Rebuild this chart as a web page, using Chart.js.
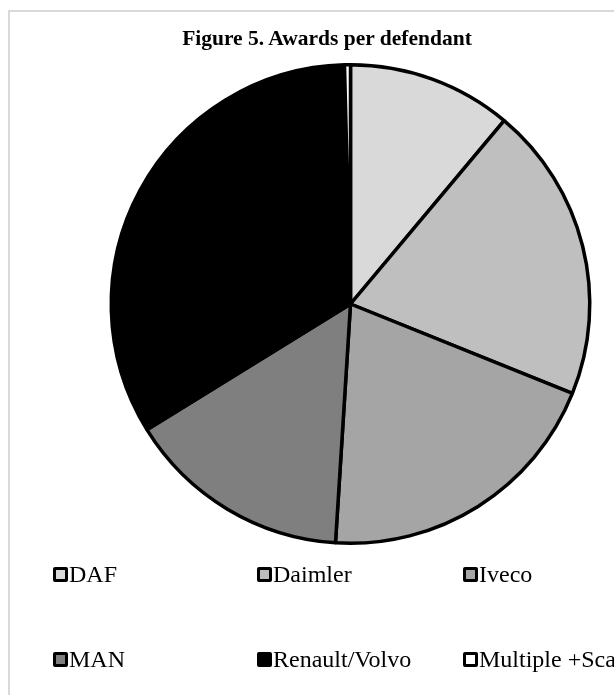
<!DOCTYPE html>
<html><head><meta charset="utf-8">
<script src="https://cdn.jsdelivr.net/npm/chart.js@4/dist/chart.umd.min.js"></script>
<style>
html,body{margin:0;padding:0;width:614px;height:695px;overflow:hidden;background:#fff;}
#frame{position:absolute;left:8px;top:10px;width:720px;height:740px;border:2px solid #d9d9d9;box-sizing:border-box;}
#c{position:absolute;left:0;top:0;}
#title{position:absolute;left:0;width:654px;top:28px;text-align:center;font-family:"Liberation Serif","Times New Roman",serif;font-weight:bold;font-size:21.5px;line-height:21px;white-space:nowrap;}
.leg{position:absolute;font-family:"Liberation Serif","Times New Roman",serif;font-size:24px;line-height:24px;white-space:nowrap;display:flex;align-items:center;}
.box{width:9px;height:9px;border:3px solid #000;border-radius:2px;margin-right:1px;display:inline-block;}
</style></head>
<body>
<div id="frame"></div>
<canvas id="c" width="614" height="695"></canvas>
<div id="title">Figure 5. Awards per defendant</div>
<div id="legend"></div>
<script>
const categories = ["DAF", "Daimler", "Iveco", "MAN", "Renault/Volvo", "Multiple +Scania"];
const shares = [11.1, 20.0, 19.9, 15.2, 33.4, 0.4];
const sliceColors = ["#d9d9d9", "#bfbfbf", "#a5a5a5", "#7f7f7f", "#000000", "#ffffff"];

const chart = new Chart(document.getElementById('c'), {
  type: 'pie',
  data: {
    labels: categories,
    datasets: [{
      data: shares,
      backgroundColor: sliceColors,
      borderColor: '#000000',
      borderWidth: 3.5
    }]
  },
  options: {
    responsive: false,
    devicePixelRatio: 1,
    animation: false,
    layout: { padding: { left: 109.5, right: 22.5, top: 63, bottom: 150 } },
    plugins: { legend: { display: false }, tooltip: { enabled: false }, title: { display: false } }
  }
});

const colX = [53, 257, 463];
const rowTop = [562, 647];
const legend = document.getElementById('legend');
categories.forEach((name, i) => {
  const d = document.createElement('div');
  d.className = 'leg';
  d.style.left = colX[i % 3] + 'px';
  d.style.top = rowTop[Math.floor(i / 3)] + 'px';
  const b = document.createElement('span');
  b.className = 'box';
  b.style.background = sliceColors[i];
  d.appendChild(b);
  d.appendChild(document.createTextNode(name));
  legend.appendChild(d);
});
</script>
</body></html>
